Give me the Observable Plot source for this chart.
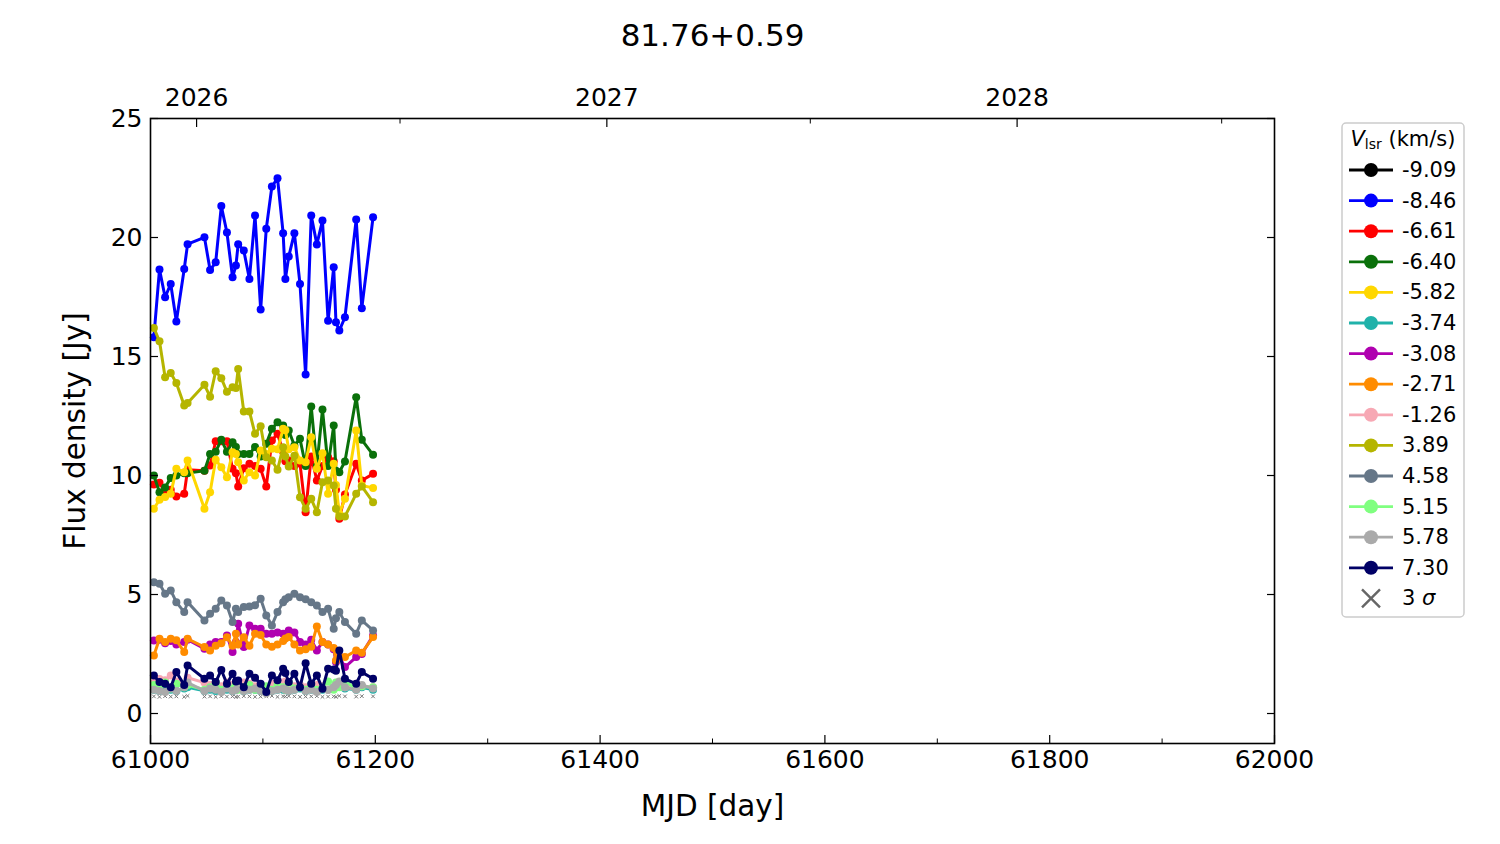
<!DOCTYPE html>
<html>
<head>
<meta charset="utf-8">
<script src="https://cdn.jsdelivr.net/npm/d3@7"></script>
<script src="https://cdn.jsdelivr.net/npm/@observablehq/plot@0.6"></script>
<style>
  body { margin: 0; background: #fff; font-family: "DejaVu Sans", sans-serif; }
  #wrap { position: relative; width: 1500px; height: 844px; }
  #legend { position: absolute; left: 1341px; top: 122px; }
</style>
</head>
<body>
<div id="wrap"><div id="chart"></div><div id="legend"></div></div>
<script>
// ---- data ----
const title = "81.76+0.59";
const mjd = [61003,61008,61013,61018,61023,61030,61033,61048,61053,61058,61063,61068,61073,61076,61078,61083,61088,61093,61098,61103,61108,61113,61118,61120,61123,61128,61133,61138,61143,61148,61153,61158,61163,61165,61168,61173,61183,61188,61198];

const vlsr = ["-9.09","-8.46","-6.61","-6.40","-5.82","-3.74","-3.08","-2.71","-1.26","3.89","4.58","5.15","5.78","7.30"];
const colors = ["#000000","#0000ff","#ff0000","#0a700a","#ffd700","#20b2aa","#b000b0","#ff8c00","#f7a8b4","#b5b500","#667788","#80ff80","#aaaaaa","#000066"];

const s_m909 = [];
const s_m846 = [15.81,18.66,17.49,18.05,16.47,18.68,19.72,20.01,18.63,18.96,21.32,20.21,18.33,18.82,19.72,19.45,18.26,20.92,16.97,20.37,22.14,22.49,20.18,18.26,19.2,20.18,18.05,14.24,20.92,19.71,20.71,16.5,18.75,16.44,16.09,16.65,20.76,17.03,20.85];
const s_m661 = [9.62,9.7,9.3,9.4,9.12,9.23,10.24,10.2,10.42,11.44,11.44,11.44,10.28,10.1,9.54,10.3,10.49,10.4,10.28,9.54,11.47,11.75,11.0,10.6,10.63,10.4,10.5,8.46,10.8,9.79,10.4,10.77,10.6,9.4,8.18,9.2,10.49,9.79,10.07];
const s_m640 = [10.0,9.3,9.5,9.9,10.0,10.1,10.1,10.2,10.9,11.0,11.5,11.0,11.4,11.2,10.9,10.9,10.9,11.2,10.8,11.33,11.96,12.24,12.1,11.7,11.89,11.26,11.54,10.4,12.9,10.4,12.77,10.4,12.1,10.2,10.14,10.59,13.29,11.5,10.87];
const s_m582 = [8.6,8.98,9.1,9.23,10.28,10.14,10.63,8.6,9.3,10.66,10.35,9.93,10.98,10.9,10.56,9.79,10.14,10.0,11.05,10.9,11.12,11.1,11.96,11.9,11.1,11.19,10.63,10.56,11.61,10.28,10.94,9.23,10.49,9.6,8.39,9.02,11.89,9.58,9.48];
const s_m374 = [1.0,0.95,0.95,1.0,0.95,1.05,1.1,0.95,1.0,0.95,0.95,1.0,0.95,1.0,1.05,0.95,1.0,1.0,0.95,0.9,0.95,1.0,1.0,1.0,0.95,1.0,1.05,0.95,1.0,0.95,1.0,1.0,1.05,1.1,1.2,1.05,1.0,1.1,1.0];
const s_m308 = [3.07,3.1,2.95,3.05,2.9,3.0,3.1,2.72,2.9,3.0,3.0,3.28,2.58,3.0,3.77,2.79,3.7,3.56,3.56,3.35,3.35,3.4,3.35,3.3,3.49,3.4,3.0,2.9,3.1,2.65,3.0,2.9,2.7,2.16,2.4,1.95,2.37,2.5,3.28];
const s_m271 = [2.44,3.14,3.0,3.14,3.08,2.58,3.14,2.79,2.65,2.85,2.95,3.2,2.85,3.35,2.9,3.2,2.85,3.35,3.3,2.9,2.8,2.9,3.05,3.15,3.21,2.9,2.65,2.7,2.8,3.66,3.0,2.9,2.75,2.23,2.4,2.37,2.65,2.55,3.21];
const s_m126 = [1.3,1.45,1.4,1.6,1.35,1.2,1.5,1.3,1.2,1.25,1.15,1.3,1.2,1.35,1.2,1.3,1.25,1.15,1.2,1.1,1.25,1.2,1.3,1.35,1.2,1.15,1.2,1.1,1.15,1.2,1.15,1.0,1.1,1.15,1.2,1.1,1.25,1.15,1.1];
const s_p389 = [16.2,15.64,14.13,14.31,13.89,12.94,13.05,13.81,13.31,14.38,14.09,13.52,13.71,13.68,14.48,12.69,12.69,11.75,12.07,10.77,10.63,10.24,11.19,10.8,10.38,10.83,9.09,8.6,9.02,8.46,9.72,9.79,9.58,8.6,8.28,8.28,9.23,9.54,8.88];
const s_p458 = [5.52,5.45,5.03,5.17,4.68,4.26,4.68,3.91,4.19,4.4,4.75,4.54,3.84,4.4,4.26,4.47,4.5,4.55,4.82,4.12,3.7,4.26,4.68,4.8,4.89,5.03,4.89,4.8,4.68,4.54,4.26,4.4,3.56,4.0,4.26,3.84,3.35,3.91,3.49];
const s_p515 = [1.2,1.15,1.3,1.05,1.25,1.1,1.2,1.0,1.1,1.3,1.0,1.15,1.05,1.25,1.0,1.1,1.2,1.0,1.05,1.15,1.0,1.2,1.1,1.0,1.3,1.05,1.1,1.0,1.25,1.0,1.1,1.35,1.0,1.3,1.1,1.35,1.05,1.15,1.1];
const s_p578 = [1.0,0.95,0.9,1.05,0.95,1.1,1.3,0.95,1.05,1.0,0.9,1.05,0.95,1.0,1.1,0.95,1.0,1.05,0.95,0.85,0.95,1.0,1.05,1.0,0.95,1.0,1.1,0.95,1.0,0.9,1.05,1.0,1.1,1.2,1.35,1.1,1.0,1.2,1.05];
const s_p730 = [1.6,1.32,1.25,1.1,1.74,1.2,2.02,1.46,1.6,1.32,1.83,1.25,1.67,1.35,1.39,1.1,1.67,1.5,1.25,0.9,1.6,1.4,1.88,1.7,1.32,1.67,1.1,2.11,1.25,1.6,1.04,1.88,1.85,1.8,2.65,1.46,1.25,1.74,1.46];
const sigma3 = [0.72,0.7,0.73,0.71,0.72,0.7,0.74,0.71,0.72,0.7,0.73,0.71,0.72,0.7,0.71,0.73,0.72,0.7,0.71,0.72,0.74,0.7,0.72,0.71,0.73,0.72,0.7,0.71,0.72,0.73,0.7,0.71,0.72,0.7,0.74,0.72,0.71,0.73,0.72];

const seriesValues = [s_m909,s_m846,s_m661,s_m640,s_m582,s_m374,s_m308,s_m271,s_m126,s_p389,s_p458,s_p515,s_p578,s_p730];

const xMajor = [61000,61200,61400,61600,61800,62000];
const xMinor = [61100,61300,61500,61700,61900];
const yTicks = [0,5,10,15,20,25];
const yearTicks = [61041,61406,61771];
const yearLabels = ["2026","2027","2028"];
const halfYearTicks = [61222,61587,61953];

// ---- build table ----
const rows = [];
seriesValues.forEach((vals, k) => {
  vals.forEach((v, i) => rows.push({mjd: mjd[i], flux: v, series: vlsr[k], color: colors[k]}));
});
const sigmaRows = sigma3.map((v, i) => ({mjd: mjd[i], flux: v}));

const marks = [];
marks.push(Plot.dot(sigmaRows, {x: "mjd", y: "flux", symbol: "times", stroke: "#777", r: 1.8, strokeWidth: 1}));
vlsr.forEach((name, k) => {
  const d = rows.filter(r => r.series === name);
  if (!d.length) return;
  marks.push(Plot.line(d, {x: "mjd", y: "flux", stroke: colors[k], strokeWidth: 3}));
  marks.push(Plot.dot(d, {x: "mjd", y: "flux", fill: colors[k], r: 4}));
});

const fs = 25;
const chart = Plot.plot({
  width: 1500,
  height: 844,
  marginLeft: 150,
  marginRight: 226,
  marginTop: 118,
  marginBottom: 101,
  style: {fontFamily: "DejaVu Sans", color: "#000", background: "#fff"},
  x: {domain: [61000, 62000], axis: null},
  y: {domain: [-1.26, 25], axis: null},
  marks: [
    ...marks,
    Plot.axisX({anchor: "bottom", ticks: xMajor, tickSize: -8, tickPadding: 15, fontSize: fs, tickFormat: d => String(d), label: null, strokeWidth: 1.2}),
    Plot.axisX({anchor: "bottom", ticks: xMinor, tickSize: -4.5, tickFormat: () => "", label: null, strokeWidth: 1}),
    Plot.axisX({anchor: "top", ticks: yearTicks, tickSize: -8, tickPadding: 21, fontSize: fs, tickFormat: (d, i) => yearLabels[i], label: null, strokeWidth: 1.2}),
    Plot.axisX({anchor: "top", ticks: halfYearTicks, tickSize: -4.5, tickFormat: () => "", label: null, strokeWidth: 1}),
    Plot.axisY({anchor: "left", ticks: yTicks, tickSize: -8, tickPadding: 16, fontSize: fs, tickFormat: d => String(d), label: null, strokeWidth: 1.2}),
    Plot.axisY({anchor: "right", ticks: yTicks, tickSize: -8, tickFormat: () => "", label: null, strokeWidth: 1.2}),
    Plot.frame({stroke: "#000", strokeWidth: 1.6}),
    Plot.text([title], {frameAnchor: "top", dy: -82, lineAnchor: "middle", fontSize: 31}),
    Plot.text(["MJD [day]"], {frameAnchor: "bottom", dy: 63, lineAnchor: "middle", fontSize: 29.5}),
    Plot.text(["Flux density [Jy]"], {frameAnchor: "left", dx: -75, textAnchor: "middle", lineAnchor: "middle", rotate: -90, fontSize: 29.5})
  ]
});
document.getElementById("chart").appendChild(chart);

// ---- legend ----
const lw = 124, lh = 496;
const lsvg = d3.select("#legend").append("svg").attr("width", lw).attr("height", lh)
  .style("font-family", "DejaVu Sans");
lsvg.append("rect").attr("x", 1).attr("y", 1).attr("width", lw - 2).attr("height", lh - 2)
  .attr("rx", 4).attr("fill", "#fff").attr("stroke", "#cccccc").attr("stroke-width", 1.5);
const lt = lsvg.append("text").attr("x", 62).attr("y", 17).attr("text-anchor", "middle")
  .attr("dominant-baseline", "central").attr("font-size", 21);
lt.append("tspan").attr("font-style", "italic").text("V");
lt.append("tspan").attr("font-size", 14).attr("dy", 5).text("lsr");
lt.append("tspan").attr("dy", -5).text(" (km/s)");
const step = 30.6;
vlsr.forEach((name, k) => {
  const cy = 48 + k * step;
  lsvg.append("line").attr("x1", 8).attr("x2", 52).attr("y1", cy).attr("y2", cy)
    .attr("stroke", colors[k]).attr("stroke-width", 2.8);
  lsvg.append("circle").attr("cx", 30).attr("cy", cy).attr("r", 7).attr("fill", colors[k]);
  lsvg.append("text").attr("x", 61).attr("y", cy).attr("dominant-baseline", "central")
    .attr("font-size", 21).text(name);
});
const sy = 48 + vlsr.length * step;
lsvg.append("path").attr("d", `M${30-9},${sy-9}L${30+9},${sy+9}M${30-9},${sy+9}L${30+9},${sy-9}`)
  .attr("stroke", "#666").attr("stroke-width", 2.4);
const st = lsvg.append("text").attr("x", 61).attr("y", sy).attr("dominant-baseline", "central").attr("font-size", 21);
st.append("tspan").text("3 ");
st.append("tspan").attr("font-style", "italic").text("σ");
</script>
</body>
</html>
